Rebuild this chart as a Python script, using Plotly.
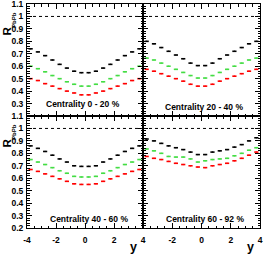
import plotly.graph_objects as go

# bin centres in rapidity
y_bins = [-3.75, -3.25, -2.75, -2.25, -1.75, -1.25, -0.75, -0.25,
          0.25, 0.75, 1.25, 1.75, 2.25, 2.75, 3.25, 3.75]

panel_labels = ["Centrality 0 - 20 %", "Centrality 20 - 40 %",
                "Centrality 40 - 60 %", "Centrality 60 - 92 %"]

# 0-20 %
c0_black = [0.74, 0.715, 0.685, 0.65, 0.615, 0.585, 0.56, 0.548, 0.548, 0.56, 0.585, 0.615, 0.65, 0.685, 0.715, 0.74]
c0_green = [0.60, 0.58, 0.555, 0.525, 0.50, 0.475, 0.455, 0.44, 0.44, 0.455, 0.475, 0.50, 0.525, 0.555, 0.58, 0.60]
c0_red   = [0.50, 0.485, 0.46, 0.44, 0.42, 0.40, 0.385, 0.37, 0.37, 0.385, 0.40, 0.42, 0.44, 0.46, 0.485, 0.50]
# 20-40 %
c1_black = [0.80, 0.78, 0.75, 0.72, 0.69, 0.66, 0.625, 0.605, 0.605, 0.625, 0.66, 0.69, 0.72, 0.75, 0.78, 0.80]
c1_green = [0.665, 0.65, 0.625, 0.60, 0.575, 0.55, 0.525, 0.505, 0.505, 0.525, 0.55, 0.575, 0.60, 0.625, 0.65, 0.665]
c1_red   = [0.575, 0.56, 0.54, 0.52, 0.50, 0.48, 0.455, 0.44, 0.44, 0.455, 0.48, 0.50, 0.52, 0.54, 0.56, 0.575]
# 40-60 %
c2_black = [0.86, 0.84, 0.815, 0.785, 0.755, 0.73, 0.70, 0.695, 0.695, 0.70, 0.73, 0.755, 0.785, 0.815, 0.84, 0.86]
c2_green = [0.75, 0.73, 0.71, 0.685, 0.66, 0.64, 0.615, 0.61, 0.61, 0.615, 0.64, 0.66, 0.685, 0.71, 0.73, 0.75]
c2_red   = [0.67, 0.655, 0.635, 0.615, 0.595, 0.575, 0.555, 0.55, 0.55, 0.555, 0.575, 0.595, 0.615, 0.635, 0.655, 0.67]
# 60-92 %
c3_black = [0.915, 0.90, 0.88, 0.86, 0.845, 0.83, 0.81, 0.79, 0.79, 0.81, 0.82, 0.83, 0.85, 0.87, 0.90, 0.925]
c3_green = [0.835, 0.82, 0.80, 0.775, 0.77, 0.77, 0.755, 0.73, 0.74, 0.75, 0.755, 0.76, 0.78, 0.80, 0.825, 0.845]
c3_red   = [0.775, 0.76, 0.75, 0.735, 0.72, 0.71, 0.70, 0.69, 0.685, 0.70, 0.71, 0.72, 0.74, 0.76, 0.785, 0.81]

series = [
    (c0_black, c0_green, c0_red),
    (c1_black, c1_green, c1_red),
    (c2_black, c2_green, c2_red),
    (c3_black, c3_green, c3_red),
]
colors = ["#000000", "#44dd44", "#ff0000"]

ytick_vals = [0.2, 0.3, 0.4, 0.5, 0.6, 0.7, 0.8, 0.9, 1.0, 1.1]
ytick_text = ["0.2", "0.3", "0.4", "0.5", "0.6", "0.7", "0.8", "0.9", "1", "1.1"]
xtick_vals = [-4, -2, 0, 2, 4]
xtick_text = ["-4", "-2", "0", "2", "4"]

W, H = 266, 255
xl, xm, xr = 27 / W, 143 / W, 260 / W
yt, ymid, yb = 1 - 4 / H, 1 - 116 / H, 1 - 228 / H
domains = [
    ([xl, xm], [ymid, yt]),
    ([xm, xr], [ymid, yt]),
    ([xl, xm], [yb, ymid]),
    ([xm, xr], [yb, ymid]),
]

fig = go.Figure()
tickfont = dict(family="Liberation Sans", size=8.5, color="black", weight="bold")

for i, (dx, dy) in enumerate(domains):
    n = "" if i == 0 else str(i + 1)
    xa, ya = "x" + n, "y" + n
    for vals, col in zip(series[i], colors):
        fig.add_trace(go.Scatter(
            x=y_bins, y=vals, mode="markers", xaxis=xa, yaxis=ya,
            marker=dict(symbol="line-ew", size=3, color=col,
                        line=dict(color=col, width=1.6)),
            error_y=dict(type="constant", value=0.005, width=0, thickness=1, color=col),
            showlegend=False, hoverinfo="skip",
        ))
    # dotted reference line at 1
    fig.add_trace(go.Scatter(
        x=[-4, 4], y=[1, 1], mode="lines", xaxis=xa, yaxis=ya,
        line=dict(color="black", width=1, dash="dot"),
        showlegend=False, hoverinfo="skip",
    ))
    left = i in (0, 2)
    bottom = i in (2, 3)
    if left and bottom:
        ytv, ytt = ytick_vals, ytick_text
    elif left:
        ytv, ytt = ytick_vals[1:], ytick_text[1:]
    else:
        ytv, ytt = [], []
    if bottom and left:
        xtv, xtt = xtick_vals, xtick_text
    elif bottom:
        xtv, xtt = xtick_vals[1:], xtick_text[1:]
    else:
        xtv, xtt = [], []
    fig.layout["xaxis" + n] = dict(
        domain=dx, range=[-4, 4], anchor=ya, showgrid=False, zeroline=False,
        automargin=False, fixedrange=True,
        showline=True, linecolor="black", linewidth=1, mirror="allticks",
        ticks="inside", ticklen=5, tickcolor="black",
        tickmode="array", tickvals=xtick_vals,
        showticklabels=bottom, tickfont=tickfont, ticklabeloverflow="allow",
        ticklabelstandoff=4,
        minor=dict(dtick=0.5, tick0=0, ticks="inside", ticklen=2.5, tickcolor="black", showgrid=False),
    )
    if bottom:
        fig.layout["xaxis" + n].update(tickvals=xtv, ticktext=xtt)
    fig.layout["yaxis" + n] = dict(
        domain=dy, range=[0.2, 1.1], anchor=xa, showgrid=False, zeroline=False,
        automargin=False, fixedrange=True,
        showline=True, linecolor="black", linewidth=1, mirror="allticks",
        ticks="inside", ticklen=5, tickcolor="black",
        tickmode="array", tickvals=ytick_vals,
        showticklabels=left, tickfont=tickfont, ticklabelstandoff=1,
        ticklabeloverflow="allow",
        minor=dict(dtick=0.02, tick0=0, ticks="inside", ticklen=2.5, tickcolor="black", showgrid=False),
    )
    if left:
        fig.layout["yaxis" + n].update(tickvals=ytv, ticktext=ytt)

# panel labels
label_pos = [(83, 104), (204, 107), (89, 219), (205, 219)]
for (px, py), txt in zip(label_pos, panel_labels):
    fig.add_annotation(x=px / W, y=1 - py / H, xref="paper", yref="paper",
                       xanchor="center", yanchor="middle",
                       text=txt, showarrow=False,
                       font=dict(family="Liberation Sans", size=8.5, color="black", weight="bold"))

# y-axis titles: R with subscript PbPb, rotated
for dy_off in (0, 112):
    fig.add_annotation(x=6.5 / W, y=1 - (31 + dy_off) / H, xref="paper", yref="paper",
                       xanchor="center", yanchor="middle",
                       text="R", textangle=-90, showarrow=False,
                       font=dict(family="Liberation Sans", size=11.5, color="black", weight="bold"))
    fig.add_annotation(x=13.5 / W, y=1 - (20.5 + dy_off) / H, xref="paper", yref="paper",
                       xanchor="center", yanchor="middle",
                       text="PbPb", textangle=-90, showarrow=False,
                       font=dict(family="Liberation Sans", size=6, color="black", weight="bold"))
# x-axis titles
for cx in (133, 250):
    fig.add_annotation(x=cx / W, y=1 - 247 / H, xref="paper", yref="paper",
                       xanchor="center", yanchor="middle",
                       text="y", showarrow=False,
                       font=dict(family="Liberation Sans", size=12.5, color="black", weight="bold"))

fig.update_layout(width=W, height=H, margin=dict(l=0, r=0, t=0, b=0, autoexpand=False),
                  paper_bgcolor="white", plot_bgcolor="white", hovermode=False)
fig.write_html("out.html", config={"displayModeBar": False, "staticPlot": True},
               post_script="document.body.style.margin='0';document.body.style.padding='0';"
                           "document.body.style.overflow='hidden';")
